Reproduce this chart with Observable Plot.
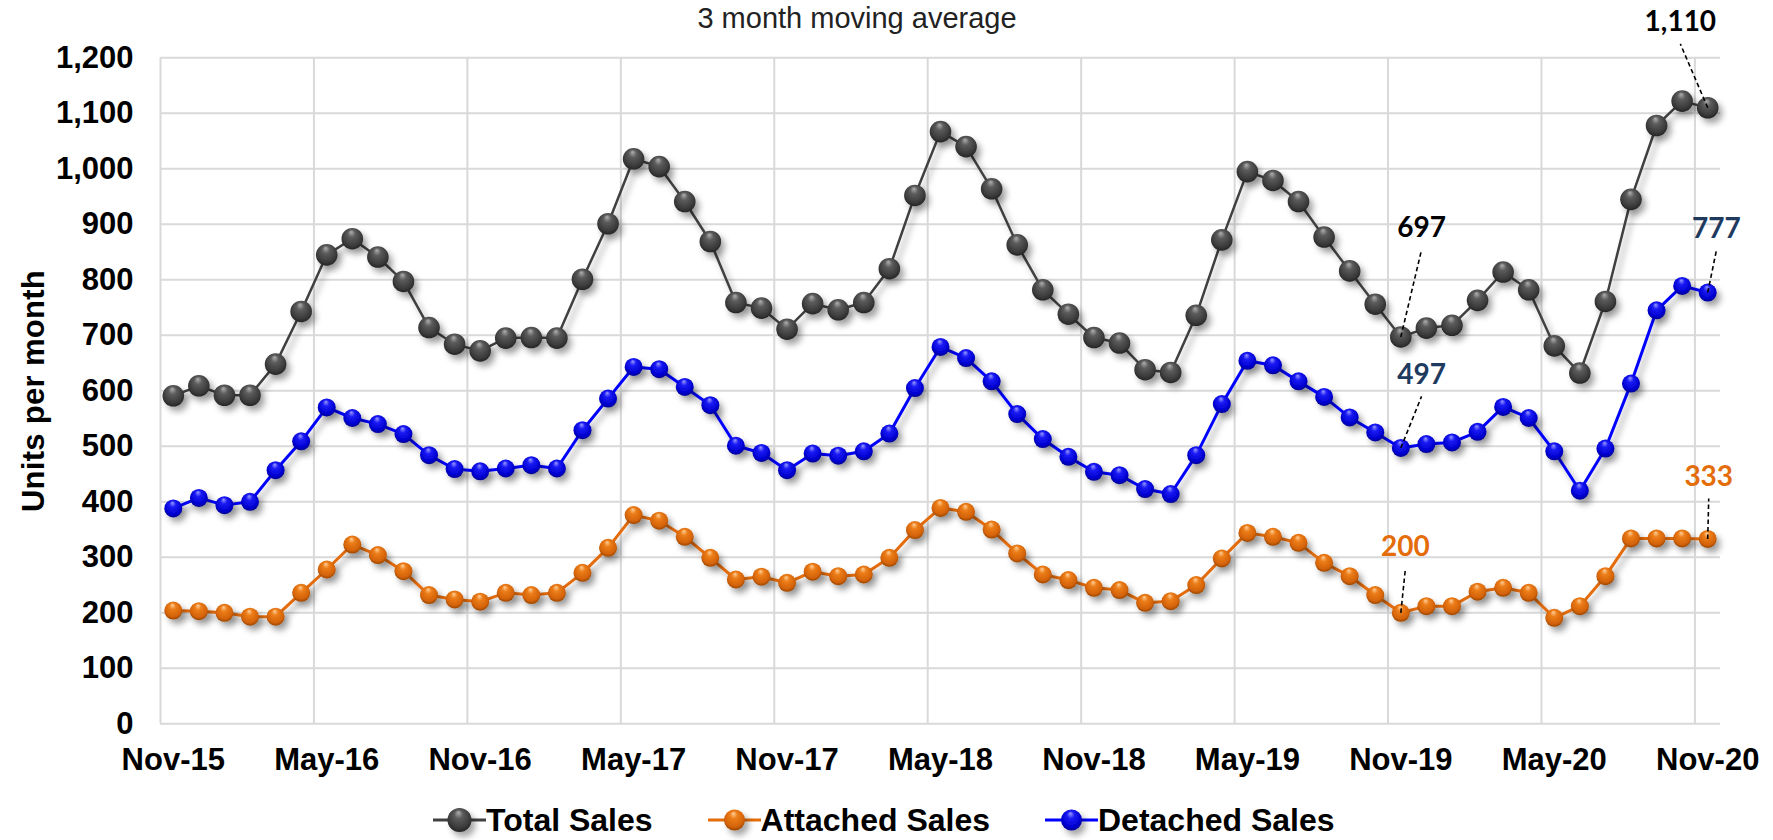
<!DOCTYPE html>
<html><head><meta charset="utf-8">
<script src="https://cdn.jsdelivr.net/npm/d3@7"></script>
<script src="https://cdn.jsdelivr.net/npm/@observablehq/plot@0.6"></script>
<style>
html,body{margin:0;padding:0;background:#fff;}
#wrap{position:relative;width:1773px;height:840px;overflow:hidden;font-family:"Liberation Sans",Arial,sans-serif;}
#title{position:absolute;top:1px;left:857px;transform:translateX(-50%);font-size:29px;line-height:34px;color:#222;white-space:nowrap;}
#chart{position:absolute;left:0;top:0;}
#ylabel{position:absolute;left:34px;top:391px;transform:translate(-50%,-50%) rotate(-90deg);font-size:31px;font-weight:bold;white-space:nowrap;color:#000;letter-spacing:0.3px;}
#legend{position:absolute;left:433px;top:800px;height:40px;display:flex;align-items:center;gap:55px;font-size:32px;font-weight:bold;line-height:40px;color:#000;}
.item{display:flex;align-items:center;}
.item svg{display:block;overflow:visible;}
</style></head>
<body>
<svg width="0" height="0" style="position:absolute">
<defs>
  <radialGradient id="gTotal" cx="0.5" cy="0.45" r="0.6" fx="0.45" fy="0.18">
    <stop offset="0" stop-color="#b0b0b0"/><stop offset="0.3" stop-color="#5c5c5c"/>
    <stop offset="0.75" stop-color="#3a3a3a"/><stop offset="1" stop-color="#1e1e1e"/>
  </radialGradient>
  <radialGradient id="gDet" cx="0.5" cy="0.45" r="0.6" fx="0.45" fy="0.18">
    <stop offset="0" stop-color="#9a9aff"/><stop offset="0.3" stop-color="#1a1af5"/>
    <stop offset="0.75" stop-color="#0000d0"/><stop offset="1" stop-color="#000080"/>
  </radialGradient>
  <radialGradient id="gAtt" cx="0.5" cy="0.45" r="0.6" fx="0.45" fy="0.18">
    <stop offset="0" stop-color="#ffd09a"/><stop offset="0.3" stop-color="#ec7d18"/>
    <stop offset="0.75" stop-color="#d46308"/><stop offset="1" stop-color="#8a3c00"/>
  </radialGradient>
  <filter id="shadow" x="-50%" y="-50%" width="200%" height="200%">
    <feDropShadow dx="4" dy="5" stdDeviation="3" flood-color="#000" flood-opacity="0.35"/>
  </filter>
</defs></svg>
<div id="wrap">
  <div id="chart"></div>
  <div id="title">3 month moving average</div>
  <div id="ylabel">Units per month</div>
  <div id="legend"></div>
</div>
<script>
// ---- data ----
const tickLabels = ["Nov-15","May-16","Nov-16","May-17","Nov-17","May-18","Nov-18","May-19","Nov-19","May-20","Nov-20"];
const tickIndex = [0,6,12,18,24,30,36,42,48,54,60];
const yTicks = [0,100,200,300,400,500,600,700,800,900,1000,1100,1200];

const totalSales = [591,609,592,592,648,743,845,874,841,797,714,684,672,695,696,695,801,901,1018,1004,
  941,869,759,749,711,757,746,759,820,952,1067,1040,964,863,782,738,696,686,638,633,
  736,872,995,979,941,877,816,756,697,713,718,763,814,782,681,632,761,945,1078,1122,1110];
const detachedSales = [388,407,394,400,457,509,570,551,540,522,484,459,455,460,466,460,529,586,643,639,
  607,574,501,488,457,487,483,491,523,605,679,659,617,558,513,481,454,448,423,414,
  484,576,654,646,617,589,552,525,497,504,507,526,571,551,491,420,496,613,745,789,777];
const attachedSales = [204,203,200,193,193,236,278,323,304,275,232,224,220,236,232,236,272,317,376,366,
  337,299,260,265,254,274,266,269,299,349,389,382,350,307,269,259,245,241,218,221,
  250,298,344,337,326,290,266,232,200,212,212,238,245,236,191,212,266,334,334,334,333];

const seriesNames = ["Total Sales","Attached Sales","Detached Sales"];
const annotationLabels = ["1,110","697","777","497","333","200"];
const annotationValues = [1110,697,777,497,333,200];
const annotationIndex = [60,48,60,48,60,48];

// ---- styles ----
const styles = {
  "Total Sales":    {stroke:"#404040", width:2.5, fill:"url(#gTotal)", r:10.8},
  "Attached Sales": {stroke:"#e46c0a", width:3,   fill:"url(#gAtt)",   r:9},
  "Detached Sales": {stroke:"#0000ff", width:3,   fill:"url(#gDet)",   r:9}
};
const seriesData = {"Total Sales": totalSales, "Attached Sales": attachedSales, "Detached Sales": detachedSales};
// leader end offsets (months, units) and label colours
const annStyle = [
  {dm:-1.07, du:115, color:"#000"},
  {dm:0.81,  du:157, color:"#000"},
  {dm:0.34,  du:76,  color:"#1f3a5f"},
  {dm:0.81,  du:93,  color:"#1f3a5f"},
  {dm:0.04,  du:73,  color:"#e46c0a"},
  {dm:0.18,  du:80,  color:"#e46c0a"}
];

const rows = name => seriesData[name].map((v,i) => ({i, v}));
const ann = annotationLabels.map((t,k) => ({
  t, i: annotationIndex[k], v: annotationValues[k],
  i2: annotationIndex[k] + annStyle[k].dm, v2: annotationValues[k] + annStyle[k].du, color: annStyle[k].color
}));

const n = totalSales.length;
const drawOrder = ["Total Sales","Detached Sales","Attached Sales"];
const marks = [
  Plot.gridY(yTicks, {stroke:"#d9d9d9", strokeOpacity:1, strokeWidth:2}),
  Plot.gridX(tickIndex.map(t => t - 0.5), {stroke:"#d9d9d9", strokeOpacity:1, strokeWidth:2}),
  Plot.axisY(yTicks, {tickSize:0, tickPadding:27, tickFormat:d3.format(","), fontSize:31, fontWeight:"bold", fill:"#000", label:null}),
  Plot.axisX(tickIndex, {tickSize:0, tickPadding:24, tickFormat:(d) => tickLabels[tickIndex.indexOf(d)], fontSize:31, fontWeight:"bold", fill:"#000", label:null})
];
for (const name of drawOrder) {
  const s = styles[name];
  marks.push(Plot.line(rows(name), {x:"i", y:"v", stroke:s.stroke, strokeWidth:s.width}));
}
for (const name of drawOrder) {
  const s = styles[name];
  marks.push(Plot.dot(rows(name), {x:"i", y:"v", r:s.r, fill:s.fill, stroke:"none"}));
}
marks.push(Plot.link(ann, {x1:"i", y1:"v", x2:"i2", y2:"v2", stroke:"#000", strokeWidth:1.6, strokeDasharray:"4.5,3"}));
for (const a of ann) {
  marks.push(Plot.text([a], {x:"i2", y:"v2", text:"t", dy:-12.5, lineAnchor:"bottom", fill:a.color,
    fontSize:28, fontWeight:"bold", fontFamily:"Lato, 'Open Sans', sans-serif"}));
}

const chart = Plot.plot({
  width:1773, height:780,
  marginLeft:160, marginRight:53, marginTop:57.3, marginBottom:56.7,
  style:{fontFamily:"'Liberation Sans', Arial, sans-serif", background:"transparent", overflow:"visible"},
  x:{domain:[-0.5, n - 0.5], axis:null},
  y:{domain:[0,1200], axis:null},
  marks
});
chart.querySelectorAll('g[aria-label="line"], g[aria-label="dot"]').forEach(g => g.setAttribute("filter","url(#shadow)"));
document.getElementById("chart").appendChild(chart);

// ---- legend ----
const legend = d3.select("#legend");
for (const name of seriesNames) {
  const s = styles[name];
  const item = legend.append("div").attr("class","item");
  const sv = item.append("svg").attr("width",53).attr("height",30);
  sv.append("line").attr("x1",0).attr("x2",53).attr("y1",15).attr("y2",15).attr("stroke",s.stroke).attr("stroke-width",3);
  sv.append("circle").attr("cx",26.5).attr("cy",15).attr("r", name === "Total Sales" ? 12 : 10.5).attr("fill",s.fill).attr("filter","url(#shadow)");
  item.append("span").text(name);
}
</script>
</body></html>
